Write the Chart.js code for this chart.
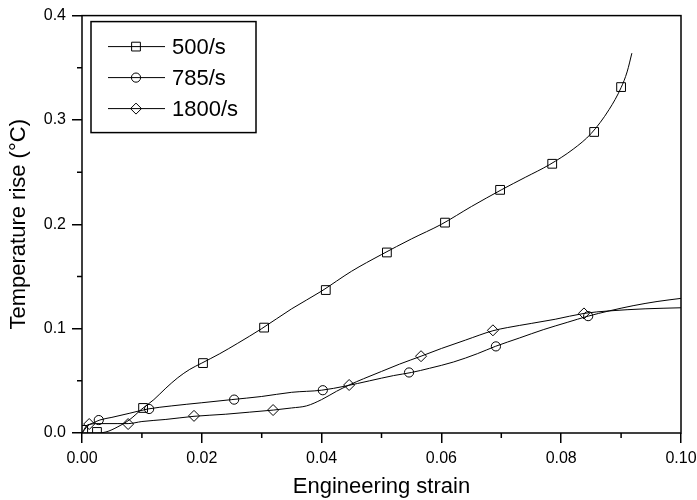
<!DOCTYPE html>
<html>
<head>
<meta charset="utf-8">
<script src="https://cdn.jsdelivr.net/npm/chart.js@4.4.1/dist/chart.umd.min.js"></script>
<style>
  html, body { margin: 0; padding: 0; background: #fff; }
  #wrap { width: 697px; height: 500px; }
</style>
</head>
<body>
<div id="wrap"><canvas id="grafico"></canvas></div>
<script>
// curvas medidas (deformação, aumento de temperatura)
const strain500 = [0, 0.002, 0.004, 0.006, 0.008, 0.010, 0.012, 0.014, 0.016, 0.018, 0.020, 0.023, 0.026, 0.030, 0.035, 0.040, 0.045, 0.050, 0.055, 0.060, 0.065, 0.070, 0.074, 0.078, 0.082, 0.085, 0.088, 0.090, 0.091, 0.0918];
const temp500 = [0, 0, 0.001, 0.006, 0.013, 0.023, 0.032, 0.043, 0.053, 0.061, 0.067, 0.076, 0.086, 0.100, 0.119, 0.136, 0.155, 0.171, 0.186, 0.200, 0.217, 0.233, 0.245, 0.257, 0.272, 0.287, 0.310, 0.331, 0.346, 0.364];

const strain785 = [0, 0.001, 0.002, 0.003, 0.005, 0.008, 0.011, 0.015, 0.020, 0.025, 0.030, 0.035, 0.040, 0.044, 0.048, 0.052, 0.055, 0.058, 0.062, 0.066, 0.069, 0.073, 0.077, 0.081, 0.0845, 0.088, 0.092, 0.096, 0.100];
const temp785 = [0, 0.007, 0.010, 0.0125, 0.015, 0.019, 0.023, 0.026, 0.029, 0.032, 0.035, 0.039, 0.041, 0.045, 0.050, 0.055, 0.058, 0.062, 0.068, 0.076, 0.083, 0.091, 0.099, 0.106, 0.112, 0.117, 0.122, 0.126, 0.129];

const strain1800 = [0, 0.001, 0.003, 0.006, 0.0077, 0.010, 0.014, 0.0187, 0.024, 0.028, 0.032, 0.035, 0.0375, 0.040, 0.0425, 0.0446, 0.047, 0.050, 0.053, 0.0566, 0.060, 0.064, 0.0686, 0.071, 0.075, 0.079, 0.0838, 0.088, 0.094, 0.100];
const temp1800 = [0, 0.008, 0.009, 0.009, 0.009, 0.011, 0.013, 0.016, 0.018, 0.020, 0.022, 0.024, 0.026, 0.032, 0.040, 0.046, 0.052, 0.059, 0.066, 0.0736, 0.081, 0.089, 0.098, 0.101, 0.105, 0.109, 0.1146, 0.117, 0.119, 0.120];

// posições dos símbolos sobre cada curva
const mk500x = [0.0002, 0.0025, 0.0102, 0.0202, 0.0304, 0.0407, 0.0509, 0.0606, 0.0698, 0.0785, 0.0855, 0.0900];
const mk500y = [0.003, 0.001, 0.024, 0.067, 0.101, 0.137, 0.173, 0.2016, 0.233, 0.258, 0.2885, 0.3315];
const mk785x = [0.0028, 0.0112, 0.0254, 0.0402, 0.0546, 0.0691, 0.0845];
const mk785y = [0.0124, 0.023, 0.032, 0.041, 0.058, 0.083, 0.112];
const mk1800x = [0.0012, 0.0077, 0.0187, 0.0319, 0.0446, 0.0566, 0.0686, 0.0838];
const mk1800y = [0.0086, 0.0086, 0.0164, 0.022, 0.046, 0.0736, 0.0984, 0.1146];

const series = [
  { label: "500/s", x: strain500, y: temp500, mx: mk500x, my: mk500y, simbolo: "rect", raio: 6.2 },
  { label: "785/s", x: strain785, y: temp785, mx: mk785x, my: mk785y, simbolo: "circle", raio: 4.6 },
  { label: "1800/s", x: strain1800, y: temp1800, mx: mk1800x, my: mk1800y, simbolo: "rectRot", raio: 5.5 }
];

const xTicks = [0, 0.02, 0.04, 0.06, 0.08, 0.10];
const yTicks = [0, 0.1, 0.2, 0.3, 0.4];
const xMinor = [0.01, 0.03, 0.05, 0.07, 0.09];
const yMinor = [0.05, 0.15, 0.25, 0.35];

const fonte = "'Liberation Sans', Arial, sans-serif";
const pares = (xs, ys) => xs.map((v, i) => ({ x: v, y: ys[i] }));

const datasets = [];
series.forEach(s => {
  datasets.push({
    label: s.label,
    data: pares(s.x, s.y),
    showLine: true,
    borderColor: "#000",
    borderWidth: 1,
    pointRadius: 0,
    cubicInterpolationMode: "monotone"
  });
  datasets.push({
    label: s.label + " simbolos",
    data: pares(s.mx, s.my),
    showLine: false,
    pointStyle: s.simbolo,
    pointRadius: s.raio,
    pointBorderColor: "#000",
    pointBorderWidth: 1,
    pointBackgroundColor: "rgba(0,0,0,0)"
  });
});

// moldura, ticks menores e legenda desenhados por cima
const extras = {
  id: "extras",
  afterDraw(chart) {
    const { ctx, chartArea: a, scales } = chart;
    ctx.save();
    ctx.strokeStyle = "#000";
    ctx.lineWidth = 1.5;
    ctx.strokeRect(a.left, a.top, a.right - a.left, a.bottom - a.top);

    ctx.beginPath();
    xMinor.forEach(v => {
      const px = scales.x.getPixelForValue(v);
      ctx.moveTo(px, a.bottom);
      ctx.lineTo(px, a.bottom + 5);
    });
    yMinor.forEach(v => {
      const py = scales.y.getPixelForValue(v);
      ctx.moveTo(a.left, py);
      ctx.lineTo(a.left - 5, py);
    });
    ctx.stroke();

    // legenda
    const lx = a.left + 9, ly = a.top + 6;
    ctx.lineWidth = 1.5;
    ctx.strokeRect(lx, ly, 165, 111);
    ctx.font = "22px " + fonte;
    ctx.textBaseline = "middle";
    series.forEach((s, i) => {
      const y = ly + 25 + i * 31;
      ctx.lineWidth = 1;
      ctx.beginPath();
      ctx.moveTo(lx + 17, y);
      ctx.lineTo(lx + 74, y);
      ctx.stroke();
      ctx.fillStyle = "rgba(0,0,0,0)";
      Chart.helpers.drawPoint(ctx, { pointStyle: s.simbolo, radius: s.raio, borderWidth: 1 }, lx + 45, y);
      ctx.fillStyle = "#000";
      ctx.fillText(s.label, lx + 81, y + 1);
    });
    ctx.restore();
  }
};

new Chart(document.getElementById("grafico"), {
  type: "scatter",
  data: { datasets },
  options: {
    responsive: true,
    maintainAspectRatio: false,
    animation: false,
    layout: { padding: { top: 14, right: 0, left: 0, bottom: 0 } },
    plugins: { legend: { display: false }, tooltip: { enabled: false } },
    scales: {
      x: {
        type: "linear",
        min: 0,
        max: 0.1,
        afterFit: s => { s.height = 67; s.paddingRight = 16; },
        afterBuildTicks: s => { s.ticks = xTicks.map(v => ({ value: v })); },
        grid: { drawOnChartArea: false, tickLength: 10, color: "#000", lineWidth: 1.5 },
        border: { display: false },
        ticks: {
          color: "#000",
          padding: 6,
          maxRotation: 0,
          font: { family: fonte, size: 16 },
          callback: v => v.toFixed(2)
        },
        title: {
          display: true,
          text: "Engineering strain",
          color: "#000",
          padding: { top: 0, bottom: 0 },
          font: { family: fonte, size: 22 }
        }
      },
      y: {
        type: "linear",
        min: 0,
        max: 0.4,
        afterFit: s => { s.width = 82; },
        afterBuildTicks: s => { s.ticks = yTicks.map(v => ({ value: v })); },
        grid: { drawOnChartArea: false, tickLength: 10, color: "#000", lineWidth: 1.5 },
        border: { display: false },
        ticks: {
          color: "#000",
          padding: 6,
          font: { family: fonte, size: 16 },
          callback: v => v.toFixed(1)
        },
        title: {
          display: true,
          text: "Temperature rise (°C)",
          color: "#000",
          padding: { top: 6, bottom: 0 },
          font: { family: fonte, size: 22 }
        }
      }
    }
  },
  plugins: [extras]
});
</script>
</body>
</html>
